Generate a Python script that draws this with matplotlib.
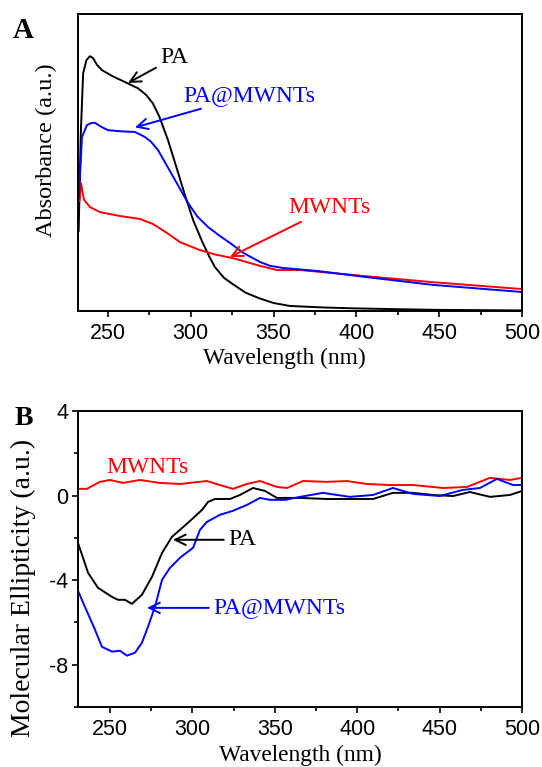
import matplotlib
matplotlib.use('Agg')
import matplotlib.pyplot as plt
from matplotlib.ticker import MultipleLocator, NullLocator

# ---------------- panel A: UV-vis absorbance (a.u.) ----------------
pa_uv_nm = [232.3, 233.6, 235.0, 237.0, 239.1, 240.9, 243.5, 246.4, 253.0, 260.3, 268.1,
            273.0, 277.0, 281.0, 286.2, 291.0, 296.5, 301.5, 306.8, 311.0, 314.6, 320.0,
            325.5, 333.0, 341.8, 350.0, 359.9, 380.0, 398.0, 446.3, 500.0]
pa_uv_abs = [0.27, 0.60, 0.80, 0.845, 0.858, 0.852, 0.828, 0.811, 0.790, 0.771, 0.750,
             0.728, 0.700, 0.655, 0.576, 0.490, 0.390, 0.305, 0.235, 0.185, 0.148, 0.112,
             0.090, 0.062, 0.042, 0.027, 0.017, 0.012, 0.009, 0.004, 0.002]

pamw_uv_nm = [232.4, 234.3, 237.3, 240.0, 242.1, 246.0, 250.0, 258.0, 266.3, 272.3, 276.0,
              280.2, 285.0, 290.5, 298.3, 304.0, 310.4, 317.0, 323.7, 332.0, 341.8, 348.0,
              355.7, 376.2, 406.4, 446.3, 500.0]
pamw_uv_abs = [0.38, 0.586, 0.626, 0.633, 0.634, 0.620, 0.609, 0.605, 0.603, 0.586, 0.570,
               0.542, 0.495, 0.441, 0.364, 0.318, 0.283, 0.255, 0.229, 0.195, 0.165, 0.152,
               0.145, 0.135, 0.114, 0.088, 0.064]

mw_uv_nm = [232.2, 232.8, 233.7, 235.5, 239.1, 245.2, 257.2, 269.3, 277.2, 285.6, 293.5,
            305.6, 315.0, 325.5, 341.8, 352.1, 366.0, 406.4, 446.3, 500.0]
mw_uv_abs = [0.48, 0.37, 0.43, 0.375, 0.350, 0.333, 0.320, 0.310, 0.293, 0.263, 0.232,
             0.205, 0.190, 0.178, 0.152, 0.138, 0.138, 0.117, 0.097, 0.074]

# ---------------- panel B: CD spectra, molecular ellipticity (a.u.) ----------------
pa_cd_nm = [230.6, 236.7, 242.7, 251.2, 254.9, 259.1, 263.3, 269.4, 275.5, 281.6, 287.6,
            297.3, 305.8, 309.5, 313.7, 322.8, 328.9, 336.8, 344.1, 351.3, 365.3, 381.7,
            395.6, 409.6, 421.7, 433.9, 446.0, 458.1, 468.4, 480.6, 492.7, 500.0]
pa_cd = [-2.24, -3.65, -4.36, -4.79, -4.93, -4.93, -5.12, -4.69, -3.84, -2.71, -1.95,
         -1.29, -0.68, -0.30, -0.16, -0.16, 0.03, 0.36, 0.22, -0.11, -0.11, -0.16,
         -0.16, -0.16, 0.13, 0.13, 0.03, -0.02, 0.17, -0.06, 0.03, 0.22]

pamw_cd_nm = [230.6, 234.8, 240.9, 245.1, 251.2, 256.1, 260.3, 265.2, 269.4, 273.1, 277.3,
              281.6, 286.4, 292.5, 300.4, 304.6, 308.9, 316.7, 324.6, 333.1, 341.0, 347.1,
              356.2, 365.3, 379.2, 395.6, 409.6, 421.7, 433.9, 450.2, 464.2, 474.5, 484.8,
              494.5, 500.0]
pamw_cd = [-4.50, -5.26, -6.34, -7.15, -7.38, -7.34, -7.57, -7.43, -6.96, -6.20, -5.26,
           -3.98, -3.42, -2.94, -2.47, -1.62, -1.24, -0.91, -0.72, -0.44, -0.11, -0.20,
           -0.20, -0.06, 0.13, -0.06, 0.03, 0.36, 0.08, -0.02, 0.27, 0.36, 0.79,
           0.50, 0.50]

mw_cd_nm = [230.6, 236.0, 243.9, 250.0, 257.9, 268.2, 280.3, 292.5, 308.9, 316.7, 324.6,
            333.1, 341.0, 351.3, 357.4, 367.1, 381.7, 393.8, 405.9, 419.9, 433.9, 452.1,
            466.6, 480.6, 492.7, 500.0]
mw_cd = [0.32, 0.32, 0.65, 0.74, 0.60, 0.74, 0.60, 0.55, 0.69, 0.50, 0.32,
         0.55, 0.69, 0.41, 0.36, 0.69, 0.65, 0.69, 0.55, 0.50, 0.50, 0.36,
         0.41, 0.84, 0.74, 0.84]

RED = '#ff0000'
BLUE = '#0000ff'
SERIF = 'Liberation Serif'
SANS = 'Liberation Sans'

plt.rcParams['font.family'] = SERIF
plt.rcParams['axes.unicode_minus'] = False

fig = plt.figure(figsize=(5.42, 7.67), dpi=100)
ax_a = fig.add_axes([0.1439, 0.5945, 0.8192, 0.3872])
ax_b = fig.add_axes([0.1439, 0.0782, 0.8192, 0.3859])


def style_axes(ax):
    # frame and outward ticks on bottom/left only
    for sp in ax.spines.values():
        sp.set_linewidth(1.4)
    ax.xaxis.set_major_locator(MultipleLocator(50))
    ax.xaxis.set_minor_locator(MultipleLocator(25))
    ax.tick_params(which='both', direction='out', top=False, right=False, width=1.2,
                   labelsize=15.5, labelfontfamily=SANS)
    ax.tick_params(which='major', length=4)
    ax.tick_params(which='minor', length=3)
    ax.tick_params(axis='x', pad=4.5)
    ax.tick_params(axis='y', pad=3)


def arrow_label(ax, text, xy, xytext, color, ha='left'):
    ax.annotate(text, xy=xy, xytext=xytext, color=color, fontsize=17, ha=ha, va='center',
                arrowprops=dict(arrowstyle='->,head_length=0.45,head_width=0.22',
                                color=color, lw=1.4, shrinkA=1, shrinkB=0))


# panel A
ax_a.plot(pa_uv_nm, pa_uv_abs, color='k', lw=1.4)
ax_a.plot(mw_uv_nm, mw_uv_abs, color=RED, lw=1.4)
ax_a.plot(pamw_uv_nm, pamw_uv_abs, color=BLUE, lw=1.4)
ax_a.set_xlim(231.9, 500)
ax_a.set_ylim(0, 1)
style_axes(ax_a)
ax_a.yaxis.set_major_locator(NullLocator())
ax_a.set_xlabel('Wavelength (nm)', fontsize=16.8)
ax_a.xaxis.set_label_coords(0.464, -0.125)
ax_a.set_ylabel('Absorbance (a.u.)', fontsize=17.5, va='center')
ax_a.yaxis.set_label_coords(-0.072, 0.542)
arrow_label(ax_a, 'PA', (262.1, 0.768), (281.4, 0.852), 'k')
arrow_label(ax_a, 'PA@MWNTs', (266.3, 0.618), (295.3, 0.727), BLUE)
arrow_label(ax_a, 'MWNTs', (323.7, 0.182), (358.7, 0.347), RED)

# panel B
ax_b.plot(pa_cd_nm, pa_cd, color='k', lw=1.4)
ax_b.plot(mw_cd_nm, mw_cd, color=RED, lw=1.4)
ax_b.plot(pamw_cd_nm, pamw_cd, color=BLUE, lw=1.4)
ax_b.set_xlim(230.6, 500)
ax_b.set_ylim(-10, 4)
style_axes(ax_b)
ax_b.yaxis.set_major_locator(MultipleLocator(4))
ax_b.yaxis.set_minor_locator(MultipleLocator(2))
ax_b.set_xlabel('Wavelength (nm)', fontsize=16.8)
ax_b.xaxis.set_label_coords(0.5, -0.128)
ax_b.set_ylabel('Molecular Ellipticity (a.u.)', fontsize=20, va='center')
ax_b.yaxis.set_label_coords(-0.124, 0.404)
ax_b.text(272.8, 1.31, 'MWNTs', color=RED, fontsize=17, ha='center', va='center')
arrow_label(ax_b, 'PA', (288.2, -2.09), (321.6, -2.09), 'k')
arrow_label(ax_b, 'PA@MWNTs', (272.5, -5.31), (312.5, -5.31), BLUE)

# panel letters
fig.text(13 / 542, 1 - 38 / 767, 'A', fontsize=21, fontweight='bold', va='baseline')
fig.text(15 / 542, 1 - 425 / 767, 'B', fontsize=20, fontweight='bold', va='baseline')

fig.savefig('out.png', dpi=100)
